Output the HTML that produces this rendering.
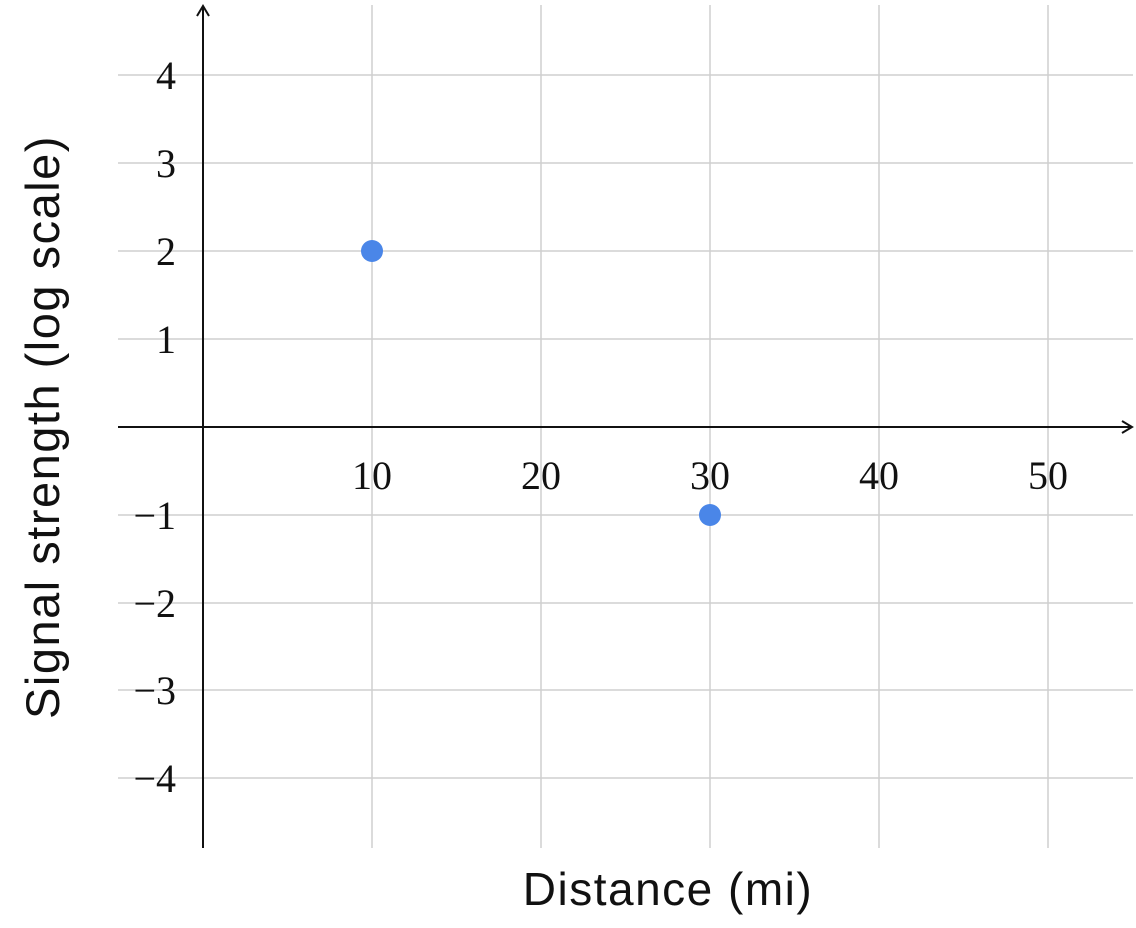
<!DOCTYPE html>
<html><head><meta charset="utf-8"><style>html,body{margin:0;padding:0;background:#fff}svg{display:block}</style></head>
<body>
<svg width="1136" height="928" viewBox="0 0 1136 928" xmlns="http://www.w3.org/2000/svg">
<g stroke="#cfcfcf" stroke-width="1.5">
<line x1="372" y1="5" x2="372" y2="848"/>
<line x1="541" y1="5" x2="541" y2="848"/>
<line x1="710" y1="5" x2="710" y2="848"/>
<line x1="879" y1="5" x2="879" y2="848"/>
<line x1="1048" y1="5" x2="1048" y2="848"/>
<line x1="118" y1="75" x2="1133" y2="75"/>
<line x1="118" y1="163" x2="1133" y2="163"/>
<line x1="118" y1="251" x2="1133" y2="251"/>
<line x1="118" y1="339" x2="1133" y2="339"/>
<line x1="118" y1="515" x2="1133" y2="515"/>
<line x1="118" y1="603" x2="1133" y2="603"/>
<line x1="118" y1="690" x2="1133" y2="690"/>
<line x1="118" y1="778" x2="1133" y2="778"/>
</g>
<g stroke="#111" stroke-width="2" fill="none">
<line x1="203" y1="848" x2="203" y2="6"/>
<path d="M197 16 L203 6 L209 16"/>
<line x1="118" y1="427" x2="1132" y2="427"/>
<path d="M1122 421 L1132 427 L1122 433"/>
</g>
<g font-family="Liberation Serif, serif" font-size="40" fill="#111" text-anchor="end">
<text x="176" y="89">4</text>
<text x="176" y="177">3</text>
<text x="176" y="265">2</text>
<text x="176" y="353">1</text>
<text x="176" y="529">−1</text>
<text x="176" y="617">−2</text>
<text x="176" y="704">−3</text>
<text x="176" y="792">−4</text>
</g>
<g font-family="Liberation Serif, serif" font-size="40" fill="#111" text-anchor="middle">
<text x="372" y="489">10</text>
<text x="541" y="489">20</text>
<text x="710" y="489">30</text>
<text x="879" y="489">40</text>
<text x="1048" y="489">50</text>
</g>
<circle cx="372" cy="251" r="11" fill="#4a86e8"/>
<circle cx="710" cy="515" r="11" fill="#4a86e8"/>
<text x="668" y="905" font-family="Liberation Sans, sans-serif" font-size="46" letter-spacing="1.5" text-anchor="middle" fill="#111">Distance (mi)</text>
<text transform="translate(59 427) rotate(-90)" font-family="Liberation Sans, sans-serif" font-size="47" letter-spacing="1.5" text-anchor="middle" fill="#111">Signal strength (log scale)</text>
</svg>
</body></html>
